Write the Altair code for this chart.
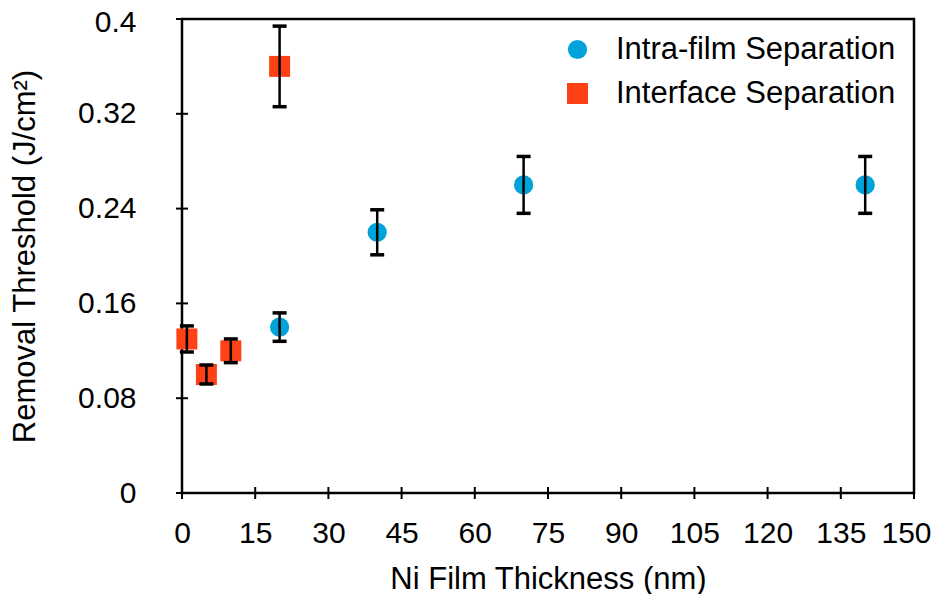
import altair as alt
import pandas as pd

series_names = ["Intra-film Separation", "Interface Separation"]

intra_x = [20, 40, 70, 140]
intra_y = [0.14, 0.22, 0.26, 0.26]
intra_err = [0.012, 0.019, 0.024, 0.024]

iface_x = [1, 5, 10, 20]
iface_y = [0.13, 0.10, 0.12, 0.36]
iface_err = [0.011, 0.008, 0.010, 0.034]

x_ticks = [0, 15, 30, 45, 60, 75, 90, 105, 120, 135, 150]
y_ticks = [0, 0.08, 0.16, 0.24, 0.32, 0.4]

colors = ["#00A3D9", "#FF4216"]
shapes = ["circle", "square"]
sizes = [370, 441]

FONT = "Liberation Sans, Arial, Helvetica, sans-serif"
W, H = 732, 474

rows = []
for name, xs, ys, es in [(series_names[0], intra_x, intra_y, intra_err),
                         (series_names[1], iface_x, iface_y, iface_err)]:
    for xv, yv, ev in zip(xs, ys, es):
        rows.append({"series": name, "x": xv, "y": yv, "lo": yv - ev, "hi": yv + ev})
df = pd.DataFrame(rows)

caps = pd.DataFrame(
    [{"x": r["x"], "y": r["lo"]} for r in rows] + [{"x": r["x"], "y": r["hi"]} for r in rows]
)
xt = pd.DataFrame({"x": x_ticks})
yt = pd.DataFrame({"y": y_ticks})

x_scale = alt.Scale(domain=[0, 150], nice=False, zero=False)
y_scale = alt.Scale(domain=[0, 0.4], nice=False, zero=False)

x_axis = alt.Axis(
    values=x_ticks, title="Ni Film Thickness (nm)", labelFontSize=30, titleFontSize=31,
    labelFont=FONT, titleFont=FONT, labelColor="black", titleColor="black",
    labelPadding=49, labelBaseline="alphabetic", titleY=95, titleBaseline="alphabetic",
    titleFontWeight="normal", labelFlush=False, labelOverlap=False,
    labelOffset=alt.ExprRef("datum.value == 150 ? -8 : 0"),
    grid=False, ticks=False, domain=False,
)
y_axis = alt.Axis(
    values=y_ticks, format="~g", title="Removal Threshold (J/cm²)", labelFontSize=30,
    titleFontSize=31, labelFont=FONT, titleFont=FONT, labelColor="black", titleColor="black",
    labelPadding=46, titleX=-148, titleY=H / 2, titleAngle=270, titleAlign="center",
    titleBaseline="alphabetic", titleFontWeight="normal", labelFlush=False, labelOverlap=False,
    labelOffset=alt.ExprRef("datum.value == 0.4 ? 3 : 0"),
    grid=False, ticks=False, domain=False,
)


def X(field):
    return alt.X(field, type="quantitative", scale=x_scale, axis=x_axis)


def Y(field):
    return alt.Y(field, type="quantitative", scale=y_scale, axis=y_axis)


legend = alt.Legend(
    title=None, orient="none", legendX=380, legendY=15, labelFontSize=31, labelFont=FONT,
    labelColor="black", labelOffset=23, rowPadding=12, symbolSize=250, padding=0,
    symbolStrokeWidth=0, labelLimit=0,
)

points = alt.Chart(df).mark_point(filled=True, opacity=1, strokeWidth=0).encode(
    x=X("x"),
    y=Y("y"),
    color=alt.Color("series:N", scale=alt.Scale(domain=series_names, range=colors), legend=legend),
    shape=alt.Shape("series:N", scale=alt.Scale(domain=series_names, range=shapes), legend=legend),
    size=alt.Size("series:N", scale=alt.Scale(domain=series_names, range=sizes), legend=None),
)

bars = alt.Chart(df).mark_rule(color="black", strokeWidth=2.5).encode(
    x=X("x"), y=Y("lo"), y2="hi"
)

cap_marks = alt.Chart(caps).mark_point(
    shape="stroke", size=196, strokeWidth=3.5, color="black", opacity=1
).encode(x=X("x"), y=Y("y"))

ytick_marks = alt.Chart(yt).mark_point(
    shape="stroke", size=144, strokeWidth=2, color="black", opacity=1
).encode(y=Y("y"), x=alt.value(0))

xtick_marks = alt.Chart(xt).mark_point(
    shape="M0,-1L0,1", size=144, strokeWidth=2, color="black", opacity=1
).encode(x=X("x"), y=alt.value(H))

chart = alt.layer(points, bars, cap_marks, ytick_marks, xtick_marks).properties(
    width=W, height=H,
    autosize=alt.AutoSizeParams(type="none"),
    padding={"left": 174, "top": 11, "right": 21, "bottom": 101},
    background="white",
).configure_view(
    stroke="black", strokeWidth=2.5
).configure_axis(
    domain=False, ticks=False, grid=False
)

chart.save("out.html", embed_options={"renderer": "svg", "actions": False})
